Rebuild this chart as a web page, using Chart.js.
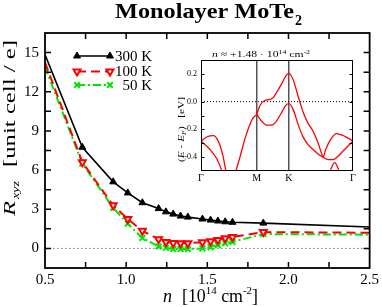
<!DOCTYPE html>
<html><head><meta charset="utf-8">
<script src="https://cdn.jsdelivr.net/npm/chart.js@4/dist/chart.umd.min.js"></script>
<style>
html,body{margin:0;padding:0;background:#fff;}
#wrap{position:relative;width:382px;height:307px;overflow:hidden;}
#main{position:absolute;left:0;top:0;}
#inset{position:absolute;left:150px;top:40px;}
</style></head><body>
<div id="wrap"><canvas id="main" width="382" height="307"></canvas><canvas id="inset" width="220" height="150"></canvas></div>
<script>
// ---- main plot data ----
const densities = [0.5, 0.73, 0.92, 1.01, 1.10, 1.20, 1.245, 1.29, 1.335, 1.38, 1.47, 1.52, 1.565, 1.61, 1.655, 1.845, 2.5];
const r300K = [14.85, 7.75, 5.1, 4.25, 3.5, 3.05, 2.8, 2.63, 2.48, 2.4, 2.25, 2.17, 2.1, 2.04, 2.0, 1.94, 1.64];
const r100K = [14.25, 6.6, 3.3, 2.25, 1.35, 0.7, 0.5, 0.42, 0.4, 0.4, 0.47, 0.55, 0.65, 0.77, 0.88, 1.25, 1.2];
const r50K  = [13.9, 6.5, 3.1, 1.9, 0.8, 0.15, 0.05, -0.05, -0.05, -0.05, 0.0, 0.1, 0.25, 0.4, 0.5, 1.1, 1.05];
const seriesLabels = ['300 K', '100 K', '50 K'];
const xTicks = [0.5, 1.0, 1.5, 2.0, 2.5];
const xTickLabels = ['0.5', '1.0', '1.5', '2.0', '2.5'];
const yTicks = [0, 3, 6, 9, 12, 15];
const yTickLabels = ['0', '3', '6', '9', '12', '15'];

// ---- inset band data (k path: Γ=0, M=0.577, K=0.911, Γ=1.577) ----
const kTicks = [0, 0.577, 0.911, 1.577];
const kTickLabels = ['Γ', 'M', 'K', 'Γ'];
const eTicks = [-0.4, -0.2, 0.0, 0.2];
const eTickLabels = ['-0.4', '-0.2', '0.0', '0.2'];
const band1K = [0,0.059,0.128,0.179,0.224,0.259,0.300,0.362,0.404,0.455,0.507,0.542,0.577,0.611,0.645,0.680,0.714,0.749,0.783,0.835,0.880,0.911,0.956,1.007,1.059,1.111,1.163,1.214,1.249,1.266,1.294,1.335,1.404,1.473,1.525,1.577];
const band1E = [-0.285,-0.255,-0.245,-0.285,-0.38,-0.5,-0.62,-0.5,-0.4,-0.27,-0.164,-0.116,-0.092,-0.03,0.0,0.012,0.017,0.029,0.065,0.126,0.186,0.205,0.157,0.041,-0.075,-0.157,-0.213,-0.297,-0.37,-0.4,-0.345,-0.285,-0.23,-0.244,-0.263,-0.285];
const band2aK = [0,0.093,0.162,0.217,0.266];
const band2aE = [-0.285,-0.345,-0.41,-0.5,-0.62];
const band2bK = [0.577,0.628,0.680,0.731,0.783,0.835,0.880,0.911,0.956,1.007,1.059,1.111,1.163,1.214,1.266,1.318,1.370,1.421,1.473,1.525,1.577];
const band2bE = [-0.092,-0.14,-0.169,-0.169,-0.14,-0.08,-0.027,-0.015,-0.056,-0.164,-0.254,-0.31,-0.345,-0.377,-0.4,-0.418,-0.418,-0.394,-0.357,-0.32,-0.285];
const band3K = [1.301,1.352,1.387,1.421,1.473];
const band3E = [-0.6,-0.48,-0.44,-0.48,-0.6];

const SERIF = '"Liberation Serif", serif';
Chart.defaults.font.family = SERIF;
Chart.defaults.color = '#000';

function pts(xs, ys){ return xs.map((x,i)=>({x, y: ys[i]})); }
function endless(ctx){ const n = ctx.dataset.data.length; return (ctx.dataIndex===0||ctx.dataIndex===n-1)?0:4; }

function drawParts(ctx, parts, x, y, W){
  let total = 0;
  parts.forEach(p=>{ ctx.font = p.font; p.w = ctx.measureText(p.t).width; total += p.w; });
  const s = W ? W/total : 1;
  ctx.save(); ctx.translate(x, y); ctx.scale(s, 1);
  let cx = 0;
  parts.forEach(p=>{ ctx.font = p.font; ctx.fillText(p.t, cx, p.dy||0); cx += p.w; });
  ctx.restore();
}

const mainDeco = {
  id: 'mainDeco',
  beforeDatasetsDraw(chart){
    const {ctx, chartArea:a, scales:{y}} = chart;
    ctx.save();
    ctx.strokeStyle = '#777'; ctx.lineWidth = 1; ctx.setLineDash([1.5, 2.5]);
    const y0 = y.getPixelForValue(0);
    ctx.beginPath(); ctx.moveTo(a.left, y0); ctx.lineTo(a.right, y0); ctx.stroke();
    ctx.restore();
  },
  afterDraw(chart){
    const {ctx, chartArea:a, scales:{x, y}} = chart;
    ctx.save();
    ctx.strokeStyle = '#000'; ctx.lineWidth = 1.5; ctx.setLineDash([]);
    ctx.beginPath();
    for (let v = 0.75; v < 2.5; v += 0.25){
      const px = x.getPixelForValue(v);
      ctx.moveTo(px, a.bottom); ctx.lineTo(px, a.bottom-6);
      ctx.moveTo(px, a.top); ctx.lineTo(px, a.top+6);
    }
    for (let v = 0; v <= 15.01; v += 1.5){
      const py = y.getPixelForValue(v);
      ctx.moveTo(a.left, py); ctx.lineTo(a.left+6, py);
      ctx.moveTo(a.right, py); ctx.lineTo(a.right-6, py);
    }
    ctx.stroke();
    ctx.lineWidth = 1.8;
    ctx.strokeRect(a.left, a.top, a.right-a.left, a.bottom-a.top);

    // legend
    const rows = [56, 71.5, 85];
    chart.data.datasets.forEach((ds, i)=>{
      const yy = rows[i];
      ctx.save();
      ctx.strokeStyle = ds.borderColor; ctx.lineWidth = ds.borderWidth;
      ctx.setLineDash(ds.borderDash || []);
      ctx.beginPath(); ctx.moveTo(77, yy); ctx.lineTo(110, yy); ctx.stroke();
      ctx.setLineDash([]);
      ctx.fillStyle = ds.pointBackgroundColor; ctx.strokeStyle = ds.borderColor;
      ctx.lineWidth = ds.pointBorderWidth;
      [77, 110].forEach(px => Chart.helpers.drawPoint(ctx, {pointStyle: ds.pointStyle, radius: 4, rotation: ds.pointRotation||0, borderWidth: ds.pointBorderWidth}, px, yy));
      ctx.restore();
      ctx.fillStyle = '#000'; ctx.font = '15px ' + SERIF;
      ctx.textAlign = 'right'; ctx.textBaseline = 'middle';
      ctx.fillText(seriesLabels[i], 152, yy+1);
    });

    // title
    ctx.fillStyle = '#000'; ctx.textAlign = 'left'; ctx.textBaseline = 'alphabetic';
    drawParts(ctx, [{t:'Monolayer MoTe', font:'bold 21px '+SERIF}], 115, 18, 179);
    ctx.font = 'bold 14px ' + SERIF; ctx.fillText('2', 295, 25);

    // x title
    drawParts(ctx, [{t:'n', font:'italic 18px '+SERIF}], 163, 302, 0);
    drawParts(ctx, [
      {t:'[10', font:'18px '+SERIF},
      {t:'14', font:'11px '+SERIF, dy:-8},
      {t:' cm', font:'18px '+SERIF},
      {t:'-2', font:'11px '+SERIF, dy:-8},
      {t:']', font:'18px '+SERIF}
    ], 182, 302, 76);

    // y title (rotated)
    ctx.save();
    ctx.translate(15, 216); ctx.rotate(-Math.PI/2);
    drawParts(ctx, [{t:'R', font:'italic 17px '+SERIF}], 0, 0, 15);
    drawParts(ctx, [{t:'xyz', font:'italic 11px '+SERIF}], 17, 4, 18);
    drawParts(ctx, [{t:'[unit cell / e]', font:'16px '+SERIF}], 49, 0, 127);
    ctx.restore();
    ctx.restore();
  }
};

const insetDeco = {
  id: 'insetDeco',
  beforeDatasetsDraw(chart){
    const {ctx, chartArea:a, scales:{y}} = chart;
    ctx.save();
    ctx.strokeStyle = '#000'; ctx.lineWidth = 1; ctx.setLineDash([1, 2]);
    const y0 = y.getPixelForValue(0);
    ctx.beginPath(); ctx.moveTo(a.left, y0); ctx.lineTo(a.right, y0); ctx.stroke();
    ctx.restore();
  },
  afterDraw(chart){
    const {ctx, chartArea:a, scales:{y}} = chart;
    ctx.save();
    ctx.strokeStyle = '#000'; ctx.lineWidth = 1;
    ctx.beginPath();
    for (let v = -0.4; v <= 0.21; v += 0.1){
      const py = Math.round(y.getPixelForValue(v)) + 0.5;
      ctx.moveTo(a.left, py); ctx.lineTo(a.left+3.5, py);
      ctx.moveTo(a.right, py); ctx.lineTo(a.right-3.5, py);
    }
    ctx.stroke();
    ctx.strokeRect(a.left+0.5, a.top+0.5, a.right-a.left-1, a.bottom-a.top-1);
    ctx.fillStyle = '#000'; ctx.textAlign='left'; ctx.textBaseline='alphabetic';
    drawParts(ctx, [
      {t:'n', font:'italic 9px '+SERIF},
      {t:' ≈ +1.48 · 10', font:'9px '+SERIF},
      {t:'14', font:'6px '+SERIF, dy:-3.5},
      {t:' cm', font:'9px '+SERIF},
      {t:'-2', font:'6px '+SERIF, dy:-3.5}
    ], 62, 17, 98);
    ctx.save();
    ctx.translate(34, 122); ctx.rotate(-Math.PI/2);
    drawParts(ctx, [
      {t:'(', font:'8px '+SERIF},
      {t:'E', font:'italic 8px '+SERIF},
      {t:' - ', font:'8px '+SERIF},
      {t:'E', font:'italic 8px '+SERIF},
      {t:'F', font:'italic 5.5px '+SERIF, dy:2},
      {t:')   [eV]', font:'8px '+SERIF}
    ], 0, 0, 65);
    ctx.restore();
    ctx.restore();
  }
};

function build(){
  new Chart(document.getElementById('main'), {
    type: 'line',
    data: { datasets: [
      { label: seriesLabels[0], data: pts(densities, r300K), borderColor:'#000', backgroundColor:'#000',
        pointBackgroundColor:'#000', borderWidth:1.6, pointStyle:'triangle', pointRadius:endless,
        pointBorderWidth:1, tension:0 },
      { label: seriesLabels[1], data: pts(densities, r100K), borderColor:'#ff0000', backgroundColor:'#fff',
        pointBackgroundColor:'#fff', borderWidth:2, borderDash:[9,5], pointStyle:'triangle', pointRotation:180,
        pointRadius:endless, pointBorderWidth:2, tension:0 },
      { label: seriesLabels[2], data: pts(densities, r50K), borderColor:'#00e600', backgroundColor:'#00e600',
        pointBackgroundColor:'#00e600', borderWidth:2, borderDash:[8,3,2,3], pointStyle:'crossRot',
        pointRadius:endless, pointBorderWidth:2, tension:0 }
    ]},
    options: {
      responsive:false, animation:false, devicePixelRatio:1,
      layout:{ padding:{ left:0, top:33, right:10, bottom:0 } },
      plugins:{ legend:{display:false}, tooltip:{enabled:false}, title:{display:false} },
      scales:{
        x:{ type:'linear', min:0.5, max:2.5,
            afterBuildTicks: s => { s.ticks = xTicks.map(v=>({value:v})); },
            afterFit: s => { s.height = 39; },
            ticks:{ callback:(v,i)=>xTickLabels[i], font:{size:15}, padding:3, maxRotation:0, autoSkip:false, color:'#000' },
            grid:{ display:false, drawTicks:false }, border:{display:false} },
        y:{ type:'linear', min:-1.5, max:16.5,
            afterBuildTicks: s => { s.ticks = yTicks.map(v=>({value:v})); },
            afterFit: s => { s.width = 45; },
            ticks:{ callback:(v,i)=>yTickLabels[i], font:{size:15}, padding:6, autoSkip:false, color:'#000' },
            grid:{ display:false, drawTicks:false }, border:{display:false} }
      }
    },
    plugins:[mainDeco]
  });

  const bandStyle = { borderColor:'#ff0000', borderWidth:1.3, pointRadius:0, cubicInterpolationMode:'monotone', clip:0, fill:false };
  new Chart(document.getElementById('inset'), {
    type: 'line',
    data: { datasets: [
      Object.assign({ data: pts(band1K, band1E) }, bandStyle),
      Object.assign({ data: pts(band2aK, band2aE) }, bandStyle),
      Object.assign({ data: pts(band2bK, band2bE) }, bandStyle),
      Object.assign({ data: pts(band3K, band3E) }, bandStyle)
    ]},
    options: {
      responsive:false, animation:false, devicePixelRatio:1,
      layout:{ padding:{ left:0, top:20, right:17, bottom:0 } },
      plugins:{ legend:{display:false}, tooltip:{enabled:false} },
      scales:{
        x:{ type:'linear', min:0, max:1.577,
            afterBuildTicks: s => { s.ticks = kTicks.map(v=>({value:v})); },
            afterFit: s => { s.height = 19; },
            ticks:{ callback:(v,i)=>kTickLabels[i], font:{size:10}, padding:1, maxRotation:0, autoSkip:false, color:'#000' },
            grid:{ drawTicks:false, color: c => (c.index===1||c.index===2) ? '#555' : 'rgba(0,0,0,0)', lineWidth:1.5 },
            border:{display:false} },
        y:{ type:'linear', min:-0.5, max:0.3,
            afterBuildTicks: s => { s.ticks = eTicks.map(v=>({value:v})); },
            afterFit: s => { s.width = 51; },
            ticks:{ callback:(v,i)=>eTickLabels[i], font:{size:8}, padding:4, autoSkip:false, color:'#000' },
            grid:{ display:false, drawTicks:false }, border:{display:false} }
      }
    },
    plugins:[insetDeco]
  });
}

const fontLoads = ['15px', 'bold 21px', 'italic 18px'].map(f => document.fonts.load(f + ' "Liberation Serif"'));
Promise.all(fontLoads).then(build, build);
</script>
</body></html>
